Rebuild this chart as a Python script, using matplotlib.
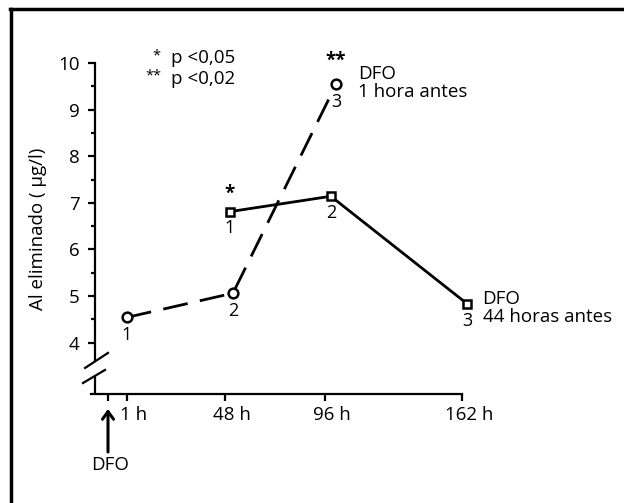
import matplotlib
matplotlib.use("Agg")
import matplotlib.pyplot as plt
from matplotlib.lines import Line2D
from matplotlib.transforms import ScaledTranslation

plt.rcParams['font.family'] = ['Open Sans', 'DejaVu Sans']

# ---- data ----
x_ticks = [-8, 1, 48, 96, 162]
x_ticklabels = ["", "1 h", "48 h", "96 h", "162 h"]
y_ticks = [4, 5, 6, 7, 8, 9, 10]

dfo1_x = [1, 52, 101.5]          # DFO 1 hora antes (dashed, circles)
dfo1_y = [4.54, 5.06, 9.54]
dfo1_n = ["1", "2", "3"]

dfo44_x = [50.5, 99, 164.5]      # DFO 44 horas antes (solid, squares)
dfo44_y = [6.81, 7.14, 4.83]
dfo44_n = ["1", "2", "3"]

W, H = 624, 503
fig = plt.figure(figsize=(W / 100, H / 100), dpi=100)
ax = fig.add_axes([91 / W, (H - 394) / H, (470 - 91) / W, (394 - 63) / H])
ax.set_xlim(-16.14, 165.8)
ax.set_ylim(2.897, 10)
ax.patch.set_visible(False)

FS = 13.5
lw = 1.6

# spines
for s in ['top', 'right']:
    ax.spines[s].set_visible(False)
ax.spines['left'].set_position(('data', -14.2))
ax.spines['left'].set_bounds(3.60, 10)
ax.spines['left'].set_linewidth(lw)
ax.spines['bottom'].set_bounds(-16.14, 162)
ax.spines['bottom'].set_linewidth(lw)
# lower stub of broken y axis
ax.plot([-14.2, -14.2], [2.897, 3.28], color='black', lw=lw, clip_on=False,
        solid_capstyle='butt')
# break marks
ax.plot([-19.0, -7.98], [3.456, 3.778], color='black', lw=lw, clip_on=False)
ax.plot([-19.98, -9.42], [3.133, 3.413], color='black', lw=lw, clip_on=False)

# ticks
ax.set_xticks(x_ticks)
ax.set_xticklabels(x_ticklabels, fontsize=FS)
ax.tick_params(axis='x', direction='out', length=5, width=lw, pad=4)
off = ScaledTranslation(7 / 100, 0, fig.dpi_scale_trans)
for lab in ax.get_xticklabels():
    lab.set_transform(lab.get_transform() + off)
ax.set_yticks(y_ticks)
ax.set_yticklabels([str(v) for v in y_ticks], fontsize=FS)
ax.set_yticks([v + 0.5 for v in y_ticks[:-1]], minor=True)
ax.tick_params(axis='y', which='major', direction='out', length=5, width=lw, pad=6)
ax.tick_params(axis='y', which='minor', direction='out', length=3, width=lw)

ax.set_ylabel("Al eliminado ( µg/l)", fontsize=FS, labelpad=8)

# series
ax.plot(dfo1_x, dfo1_y, color='black', lw=lw + 0.4, ls=(0, (9, 4.5)),
        marker='o', ms=7, mfc='white', mec='black', mew=1.8, clip_on=False, zorder=3)
ax.plot(dfo44_x, dfo44_y, color='black', lw=lw + 0.4, ls='-',
        marker='s', ms=5.5, mfc='white', mec='black', mew=1.8, clip_on=False, zorder=3)

for x, y, n in zip(dfo1_x, dfo1_y, dfo1_n):
    ax.annotate(n, (x, y), xytext=(0, -13), textcoords='offset points',
                ha='center', va='center', fontsize=FS - 0.5)
for x, y, n in zip(dfo44_x, dfo44_y, dfo44_n):
    ax.annotate(n, (x, y), xytext=(0, -12), textcoords='offset points',
                ha='center', va='center', fontsize=FS - 0.5)

# significance stars
ax.annotate("*", (dfo44_x[0], dfo44_y[0]), xytext=(0, 13), textcoords='offset points',
            ha='center', va='center', fontsize=FS, fontweight='bold')
ax.annotate("**", (dfo1_x[2], dfo1_y[2]), xytext=(0, 17), textcoords='offset points',
            ha='center', va='center', fontsize=FS, fontweight='bold')

# series descriptions
ax.annotate("DFO\n1 hora antes", (dfo1_x[2], dfo1_y[2]), xytext=(16, 1),
            textcoords='offset points', ha='left', va='center', fontsize=FS,
            linespacing=1.05)
ax.annotate("DFO\n44 horas antes", (dfo44_x[2], dfo44_y[2]), xytext=(11, -3),
            textcoords='offset points', ha='left', va='center', fontsize=FS,
            linespacing=1.05)

# legend text
fig.text(160 / W, 1 - 56 / H, "*", fontsize=FS - 3, ha='right', va='center')
fig.text(161 / W, 1 - 76 / H, "**", fontsize=FS - 3, ha='right', va='center')
fig.text(171 / W, 1 - 58 / H, "p <0,05", fontsize=FS, ha='left', va='center')
fig.text(171 / W, 1 - 79 / H, "p <0,02", fontsize=FS, ha='left', va='center')

# DFO arrow
ax.annotate("", xy=(108 / W, 1 - 409 / H), xycoords='figure fraction',
            xytext=(108 / W, 1 - 452 / H), textcoords='figure fraction',
            arrowprops=dict(arrowstyle='->,head_length=0.55,head_width=0.4',
                            lw=2.2, color='black', shrinkA=0, shrinkB=0))
fig.text(110 / W, 1 - 465 / H, "DFO", fontsize=FS, ha='center', va='center')

# frame (top and left only)
fig.add_artist(Line2D([10 / W, 1.0], [1 - 9 / H, 1 - 9 / H], color='black', lw=2.5))
fig.add_artist(Line2D([11 / W, 11 / W], [0, 1 - 9 / H], color='black', lw=2.5))

fig.savefig("out.png", dpi=100)
